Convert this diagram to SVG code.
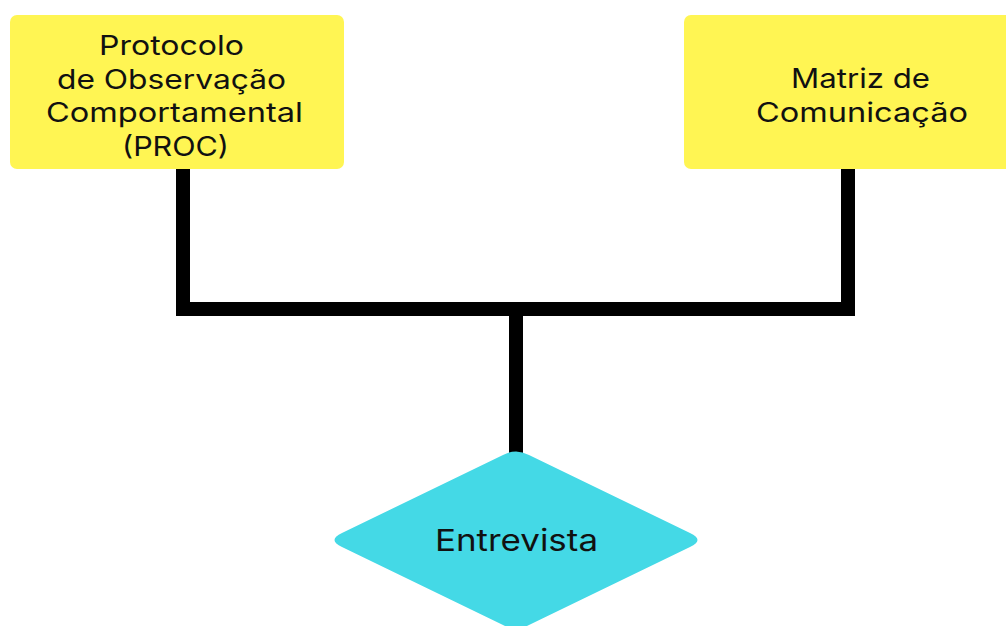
<svg xmlns="http://www.w3.org/2000/svg" width="1006" height="626" viewBox="0 0 1006 626">
  <style>
    .box { fill: #FFF553; }
    .dia { fill: #44D9E6; }
    .lbl { font-family: Inter, "Liberation Sans", sans-serif; fill: #111111; text-anchor: middle; }
    .wire { fill: none; stroke: #000000; stroke-width: 14; stroke-linejoin: miter; stroke-linecap: butt; }
  </style>
  <rect width="1006" height="626" fill="#FFFFFF"/>

  <!-- connectors: two boxes joined by a bar, trunk down to the diamond -->
  <g id="connectors">
    <path class="wire" d="M183,168 V309 H848 V168"/>
    <path class="wire" d="M516,309 V454"/>
  </g>

  <g id="node-proc">
    <rect class="box" x="10" y="15" width="334" height="154" rx="7"/>
    <text class="lbl" font-size="27" x="171.5" y="55" textLength="145" lengthAdjust="spacingAndGlyphs">Protocolo</text>
    <text class="lbl" font-size="27" x="171.5" y="89" textLength="229" lengthAdjust="spacingAndGlyphs">de Observação</text>
    <text class="lbl" font-size="27" x="174.5" y="122" textLength="257" lengthAdjust="spacingAndGlyphs">Comportamental</text>
    <text class="lbl" font-size="27" x="175.5" y="156" textLength="107" lengthAdjust="spacingAndGlyphs">(PROC)</text>
  </g>

  <g id="node-matriz">
    <rect class="box" x="684" y="15" width="360" height="154" rx="7"/>
    <text class="lbl" font-size="27" x="860.5" y="88" textLength="139" lengthAdjust="spacingAndGlyphs">Matriz de</text>
    <text class="lbl" font-size="27" x="862" y="122" textLength="212" lengthAdjust="spacingAndGlyphs">Comunicação</text>
  </g>

  <g id="node-entrevista">
    <path class="dia" d="M503,455 Q516,448 529,455 L690,533 Q705,540 690,547 L529,625 Q516,632 503,625 L342,547 Q327,540 342,533 Z"/>
    <text class="lbl" font-size="30" x="516.5" y="551" textLength="163" lengthAdjust="spacingAndGlyphs">Entrevista</text>
  </g>
</svg>
